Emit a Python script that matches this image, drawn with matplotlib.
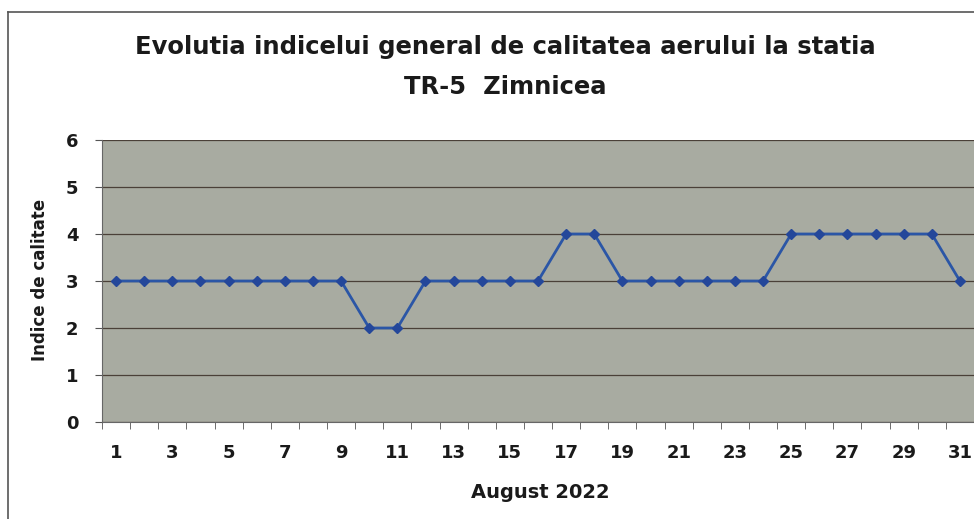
import matplotlib.pyplot as plt
from matplotlib.lines import Line2D
import numpy as np

# date: indicele general de calitate a aerului, TR-5 Zimnicea, august 2022
days = list(range(1, 32))
indice = [3, 3, 3, 3, 3, 3, 3, 3, 3, 2, 2, 3, 3, 3, 3, 3, 4, 4, 3, 3,
          3, 3, 3, 3, 4, 4, 4, 4, 4, 4, 3]
odd_days = [d for d in days if d % 2 == 1]

plt.rcParams['font.family'] = ['DejaVu Sans']

fig = plt.figure(figsize=(9.74, 5.19), dpi=100)
ax = fig.add_axes([102 / 974, 1 - 422 / 519, 1 - 102 / 974, (422 - 140) / 519])

ax.set_facecolor('#a8aba1')
ax.plot(days, indice, color='#2b56a6', linewidth=2, marker='D', markersize=5,
        markerfacecolor='#24479a', markeredgecolor='#24479a', zorder=3)

ax.set_xlim(0.5, 31.5)
ax.set_ylim(0, 6)
ax.set_yticks(range(0, 7))
ax.grid(axis='y', color='#4a4038', linewidth=0.9)
ax.set_axisbelow(True)

# ticks intre zile (stil Excel), etichete doar pe zilele impare
ax.set_xticks(np.arange(0.5, 32, 1), minor=True)
ax.set_xticks(odd_days)
ax.set_xticklabels([str(d) for d in odd_days])
ax.tick_params(axis='x', which='major', length=0, pad=16)
ax.tick_params(axis='x', which='minor', length=5, color='#555555', direction='out')
ax.tick_params(axis='y', length=5, color='#555555', pad=12)
for lab in ax.get_xticklabels() + ax.get_yticklabels():
    lab.set_fontsize(13)
    lab.set_fontweight('bold')
    lab.set_color('#1a1a1a')

for side in ['top', 'right']:
    ax.spines[side].set_visible(False)
ax.spines['left'].set_color('#666666')
ax.spines['bottom'].set_color('#666666')

fig.text(505 / 974, 1 - 47 / 519, 'Evolutia indicelui general de calitatea aerului la statia',
         ha='center', va='center', fontsize=17.5, fontweight='bold', color='#1a1a1a')
fig.text(505 / 974, 1 - 87 / 519, 'TR-5  Zimnicea',
         ha='center', va='center', fontsize=17.5, fontweight='bold', color='#1a1a1a')
fig.text(540 / 974, 1 - 492 / 519, 'August 2022', ha='center', va='center',
         fontsize=14, fontweight='bold', color='#1a1a1a')
fig.text(40 / 974, 1 - 280 / 519, 'Indice de calitate', ha='center', va='center',
         rotation=90, fontsize=12, fontweight='bold', color='#1a1a1a')

# chenarul diagramei
fig.add_artist(Line2D([8 / 974, 8 / 974], [0, 1 - 12 / 519], color='#555555', linewidth=1.2))
fig.add_artist(Line2D([8 / 974, 1], [1 - 12 / 519, 1 - 12 / 519], color='#555555', linewidth=1.2))

fig.savefig('out.png', dpi=100)
